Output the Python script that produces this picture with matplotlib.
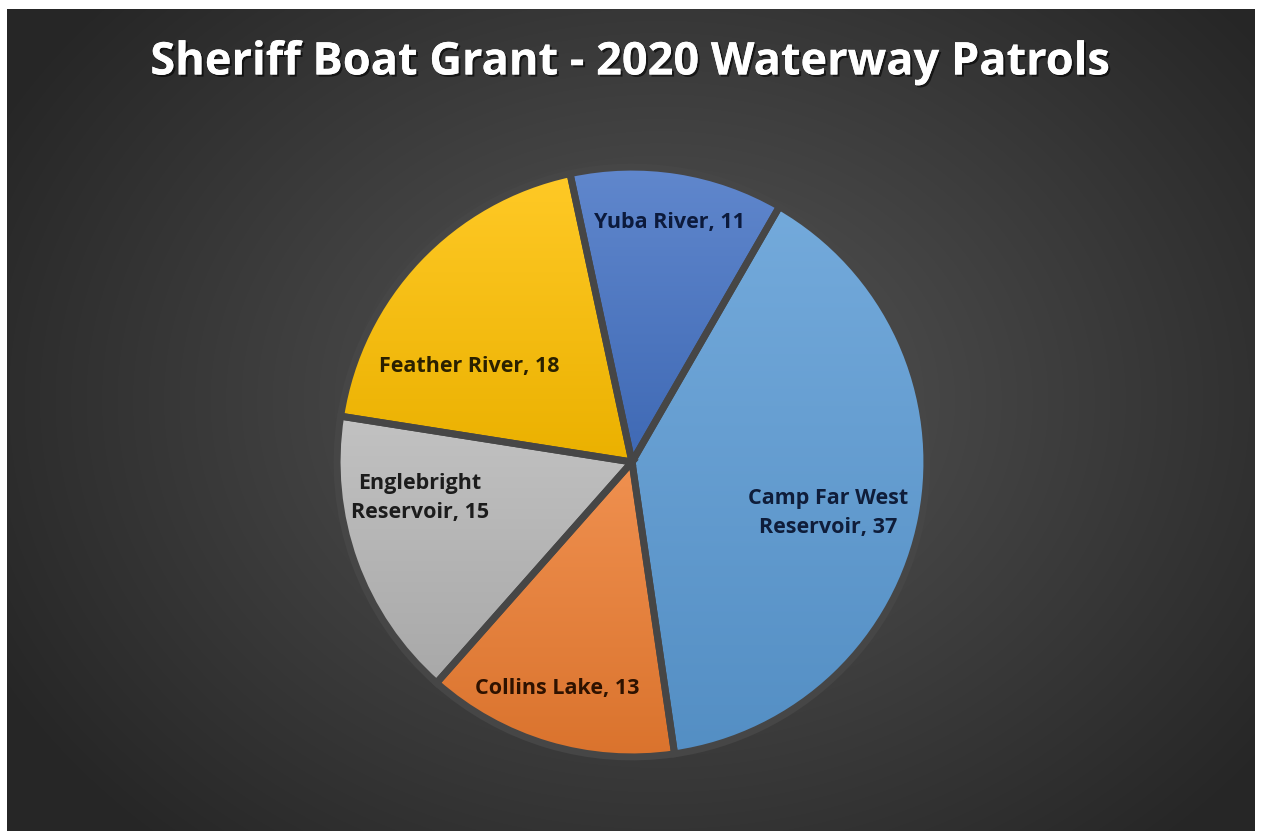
import numpy as np
import matplotlib
matplotlib.use("Agg")
import matplotlib.pyplot as plt
import matplotlib.patheffects as pe
from matplotlib.colors import LinearSegmentedColormap, to_rgb

# data
names = ["Camp Far West\nReservoir", "Collins Lake", "Englebright\nReservoir", "Feather River", "Yuba River"]
patrols = [37, 13, 15, 18, 11]
slice_colors = ["#5b9bd5", "#ed7d31", "#b7b7b7", "#ffc000", "#4472c4"]
label_colors = ["#0f1d3a", "#2e1200", "#1c1c1c", "#2a2000", "#0c1a3c"]
title = "Sheriff Boat Grant - 2020 Waterway Patrols"

# label placement (radius in data units, angle nudge in degrees)
label_r = [0.675, 0.794, 0.717, 0.63, 0.807]
label_nudge = [-3.7, -1.8, -10.2, 12.9, 0.0]

W, H = 1261, 831
fig = plt.figure(figsize=(W / 100, H / 100), dpi=100)
fig.patch.set_facecolor("white")

# dark radial background panel
left, right, top = 7, 1255, 9
bg = fig.add_axes([left / W, 0, (right - left) / W, (H - top) / H])
bw, bh = right - left, H - top
yy, xx = np.mgrid[0:bh, 0:bw]
cx, cy = 660 - left, 400 - top
d = np.sqrt(((xx - cx) / 760) ** 2 + ((yy - cy) / 600) ** 2)
d = np.clip(d, 0, 1)
inner, outer = np.array(to_rgb("#575757")), np.array(to_rgb("#262626"))
img = inner[None, None, :] * (1 - d[..., None]) + outer[None, None, :] * d[..., None]
bg.imshow(img, aspect="auto", interpolation="bilinear")
bg.axis("off")

fig.text(630 / W, 1 - 63 / H, title, ha="center", va="center", color="white",
         fontsize=32.5, fontweight="bold", family="Open Sans",
         path_effects=[pe.withSimplePatchShadow(offset=(1.5, -1.5), shadow_rgbFace="black", alpha=0.6),
                       pe.Normal()])

# pie axes: center at (632, 462) px, 600x600 px box
ax = fig.add_axes([(632 - 300) / W, (H - 462 - 300) / H, 600 / W, 600 / H])
ax.set_xlim(-1, 1)
ax.set_ylim(-1, 1)
ax.set_aspect("equal")
ax.axis("off")

wedges, _ = ax.pie(patrols, startangle=60, counterclock=False, radius=0.983,
                   colors=slice_colors,
                   wedgeprops=dict(edgecolor="#464646", linewidth=5))

grad = np.linspace(0, 1, 256).reshape(-1, 1)
for w, c in zip(wedges, slice_colors):
    base = np.array(to_rgb(c))
    light = base + (1 - base) * 0.15
    dark = base * 0.92
    cmap = LinearSegmentedColormap.from_list("g", [light, dark])
    ext = w.get_path().get_extents()
    im = ax.imshow(grad, cmap=cmap, extent=[ext.x0, ext.x1, ext.y0, ext.y1],
                   origin="upper", aspect="auto", zorder=1.5, interpolation="bilinear")
    im.set_clip_path(w)
    w.set_facecolor("none")
    w.set_zorder(3)

for w, name, val, tc, r, nud in zip(wedges, names, patrols, label_colors, label_r, label_nudge):
    ang = np.deg2rad((w.theta1 + w.theta2) / 2 + nud)
    ax.text(r * np.cos(ang), r * np.sin(ang), f"{name}, {val}", ha="center", va="center",
            fontsize=15.5, fontweight="bold", family="Open Sans", color=tc, zorder=4,
            linespacing=1.5)

ax.set_xlim(-1, 1)
ax.set_ylim(-1, 1)
fig.savefig("out.png", dpi=100)
